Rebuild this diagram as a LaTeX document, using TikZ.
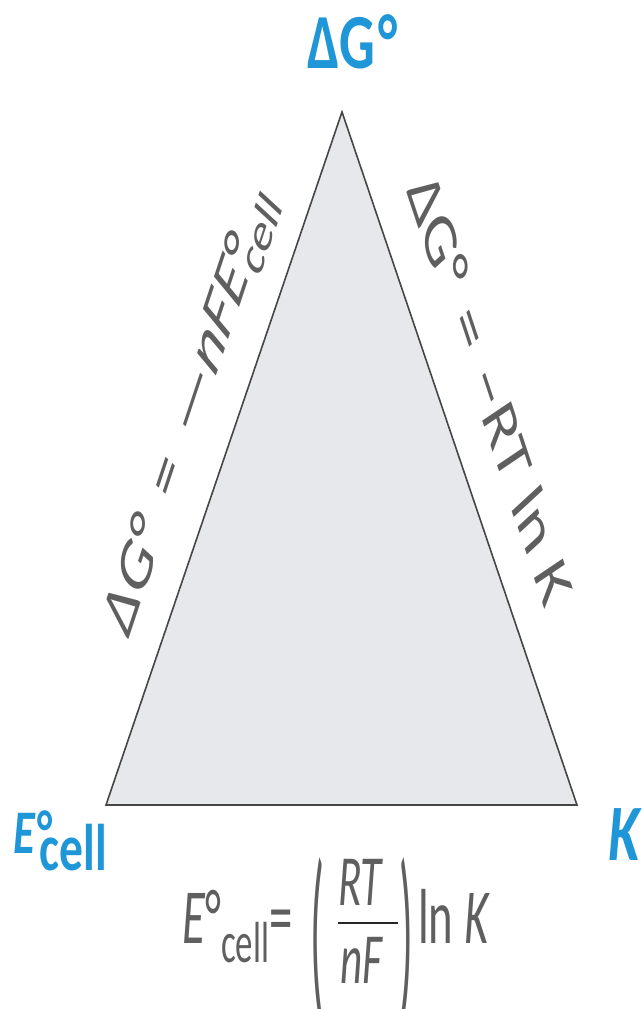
\documentclass[tikz,border=0pt]{standalone}
\usepackage{fontspec}
\setmainfont{Carlito}
\usetikzlibrary{calc}
\definecolor{tipblue}{RGB}{30,150,215}
\definecolor{eqgray}{RGB}{95,95,95}
\definecolor{trifill}{RGB}{230,232,236}
\definecolor{triedge}{RGB}{70,70,70}
\newcommand{\fs}[1]{\fontsize{#1}{#1}\selectfont}

\begin{document}
\begin{tikzpicture}[x=1pt, y=-1pt,
  squash/.style={xscale=0.6, inner sep=0pt},
  corner/.style={squash, xscale=1.2, text=tipblue, font=\bfseries},
  relation/.style={squash, text=eqgray, anchor=base},
  tallparen/.style={relation, anchor=center, yscale=2.5}]
\useasboundingbox[fill=white] (0,0) rectangle (642,1009);

% the triangle
\coordinate (top) at (342,112);
\coordinate (cellpt) at (106,805);
\coordinate (kpt) at (577,805);
\draw[draw=triedge, fill=trifill, line width=1.6pt] (top) -- (kpt) -- (cellpt) -- cycle;

% corner quantities
\node[corner, anchor=base west] (dG) at (307,68) {\fs{78}ΔG\kern4pt°};
\node[corner, anchor=base west] (Ecell) at (13,853) {\fs{62}\textit{E}\rlap{\kern2pt°}\raisebox{-17pt}{\kern6pt\fs{66}cell}};
\node[corner, anchor=base west] (K) at (608,860) {\fs{80}\textit{K}};

% relations along the sides
\node[relation, rotate=61] (leftrel) at ($(cellpt)!0.54!(top)!33pt!90:(top)$)
  {\fs{80}ΔG°\hspace{0.4em}=\hspace{0.4em}—\textit{nFE}\rlap{°}\raisebox{-15pt}{\kern4pt\fs{60}cell}};
\node[relation, rotate=-61] (rightrel) at ($(top)!0.435!(kpt)!34pt!90:(kpt)$)
  {\fs{80}ΔG°\hspace{0.35em}=\hspace{0.35em}−\textit{RT} ln \textit{K}};

% relation along the bottom
\node[relation, anchor=base west] (lhs) at (182,943) {\fs{78}\textit{E}°\raisebox{-19pt}{\fs{58}cell}=};
\node[tallparen] (lpar) at (317,940) {\fs{76}(};
\node[relation] (RT) at (361,905) {\fs{72}\textit{RT}};
\node[relation] (nF) at (362,983) {\fs{72}\textit{nF}};
\coordinate (barL) at (338,923);
\coordinate (barR) at (398,923);
\draw[black!85, line width=2.5pt] (barL) -- (barR);
\node[tallparen] (rpar) at (406,940) {\fs{76})};
\node[relation, anchor=base west] (lnK) at (418,943) {\fs{78}ln \textit{K}};
\end{tikzpicture}
\end{document}
